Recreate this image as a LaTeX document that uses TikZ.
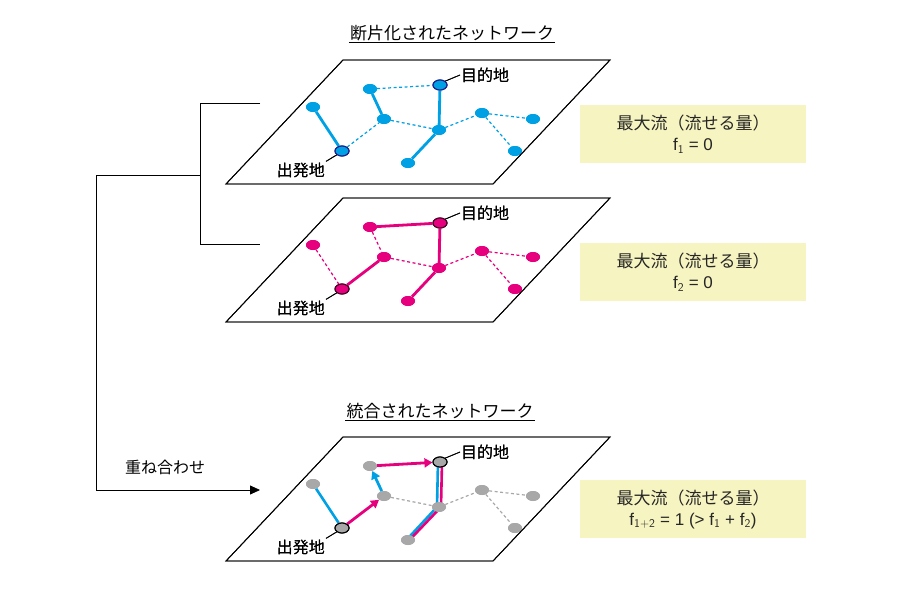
\documentclass[tikz,border=0pt]{standalone}
\usepackage{fontspec}
\setmainfont{Liberation Sans}
\newfontfamily\jp{Noto Sans CJK JP}
\usetikzlibrary{arrows.meta}
\definecolor{cblue}{RGB}{0,160,228}
\definecolor{cpink}{RGB}{230,0,126}
\definecolor{cgray}{RGB}{168,168,168}
\definecolor{cbox}{RGB}{246,244,192}
\definecolor{cnavy}{RGB}{30,30,140}
\tikzset{x=1pt,y=-1pt,
 plane/.style={draw=black,line width=0.9pt},
 nd/.style={ellipse,minimum width=14pt,minimum height=10pt,inner sep=0pt},
 sol/.style={line width=2.8pt},
 dsh/.style={line width=1.2pt,dash pattern=on 3pt off 2.5pt},
 lbl/.style={font=\jp\fontsize{16}{18}\selectfont,inner sep=1pt},
 infobox/.style={fill=cbox,minimum width=226pt,minimum height=58pt,align=center,font=\fontsize{17}{21}\selectfont,text=black!85},
 ttl/.style={font=\jp\fontsize{17}{20}\selectfont,inner sep=1pt},
 ln/.style={line width=0.8pt}}
\usetikzlibrary{shapes.geometric}
\newcommand{\netnodes}[3]{% offset, fill, endpoint outline
 \node[nd,fill=#2] (A#1) at (313,107+#1) {};
 \node[nd,fill=#2] (B#1) at (370,89+#1) {};
 \node[nd,fill=#2] (C#1) at (384,119+#1) {};
 \node[nd,fill=#2,draw=#3,line width=1.1pt] (D#1) at (342,151+#1) {};
 \node[nd,fill=#2,draw=#3,line width=1.1pt] (E#1) at (440,85+#1) {};
 \node[nd,fill=#2] (F#1) at (439,130+#1) {};
 \node[nd,fill=#2] (G#1) at (408,163+#1) {};
 \node[nd,fill=#2] (H#1) at (482,113+#1) {};
 \node[nd,fill=#2] (I#1) at (533,119+#1) {};
 \node[nd,fill=#2] (J#1) at (515,151+#1) {};
 \draw[plane] (226,184+#1) -- (343,60+#1) -- (610,60+#1) -- (493,184+#1) -- cycle;
 \node[lbl,anchor=west] (dst#1) at (460,75+#1) {目的地};
 \node[lbl,anchor=east] (src#1) at (326,170+#1) {出発地};
 \draw[ln] (E#1.north east) -- (dst#1.west);
 \draw[ln] (D#1.south west) -- (src#1.north east);
}
\begin{document}
\begin{tikzpicture}
\useasboundingbox (0,0) rectangle (900,600);
% top
\netnodes{0}{cblue}{cnavy}
\begin{scope}[on background layer/.try]
\end{scope}
\draw[cblue,sol] (A0)--(D0) (B0)--(C0) (E0)--(F0) (F0)--(G0);
\draw[cblue,dsh] (B0)--(E0) (D0)--(C0) (C0)--(F0) (F0)--(H0) (H0)--(I0) (H0)--(J0);
\netnodes{0}{cblue}{cnavy}
% middle
\netnodes{138}{cpink}{black!70!cpink}
\draw[cpink,sol] (B138)--(E138) (E138)--(F138) (D138)--(C138) (F138)--(G138);
\draw[cpink,dsh] (A138)--(D138) (B138)--(C138) (C138)--(F138) (F138)--(H138) (H138)--(I138) (H138)--(J138);
\netnodes{138}{cpink}{black!70!cpink}
% bottom
\netnodes{377}{cgray}{black}
\draw[cgray,dsh] (C377)--(F377) (F377)--(H377) (H377)--(I377) (H377)--(J377);
\draw[cblue,line width=2.6pt] (A377)--(D377);
\draw[cblue,line width=2.6pt] ([xshift=-2pt]E377.center)--([xshift=-2pt]F377.center)--([xshift=-2.5pt,yshift=-1pt]G377.center);
\draw[cpink,line width=2.6pt] ([xshift=2pt]E377.center)--([xshift=2pt]F377.center)--([xshift=2.5pt,yshift=1pt]G377.center);
\draw[cpink,line width=2.8pt,-{Triangle[length=8pt,width=9pt]}] (D377)--(C377);
\draw[cblue,line width=2.8pt,-{Triangle[length=8pt,width=9pt]}] (C377)--(B377);
\draw[cpink,line width=2.8pt,-{Triangle[length=8pt,width=9pt]}] (B377)--(E377);
\netnodes{377}{cgray}{black}
% titles
\node[ttl] (t1) at (452,33) {断片化されたネットワーク};
\draw[ln] (t1.south west) -- (t1.south east);
\node[ttl] (t2) at (440,411) {統合されたネットワーク};
\draw[ln] (t2.south west) -- (t2.south east);
% boxes
\node[infobox] (b1) at (693,134) {{\jp 最大流（流せる量）}\\ f$_{\mathsf 1}$ = 0};
\node[infobox] (b2) at (693,272) {{\jp 最大流（流せる量）}\\ f$_{\mathsf 2}$ = 0};
\node[infobox] (b3) at (693,509) {{\jp 最大流（流せる量）}\\ f$_{\mathsf{1+2}}$ = 1 (> f$_{\mathsf 1}$ + f$_{\mathsf 2}$)};
% bracket
\coordinate (p1) at (260,103);
\coordinate (p2) at (200,103);
\coordinate (p3) at (200,244);
\coordinate (p4) at (260,244);
\coordinate (q1) at (200,175);
\coordinate (q2) at (96,175);
\coordinate (q3) at (96,490);
\coordinate (q4) at (260,490);
\draw[ln] (p1)--(p2)--(p3)--(p4);
\draw[ln] (q1)--(q2)--(q3);
\draw[ln,-{Triangle[length=10pt,width=9pt]}] (q3)--(q4);
\node[lbl] (ov) at (165,467) {重ね合わせ};
\end{tikzpicture}
\end{document}
